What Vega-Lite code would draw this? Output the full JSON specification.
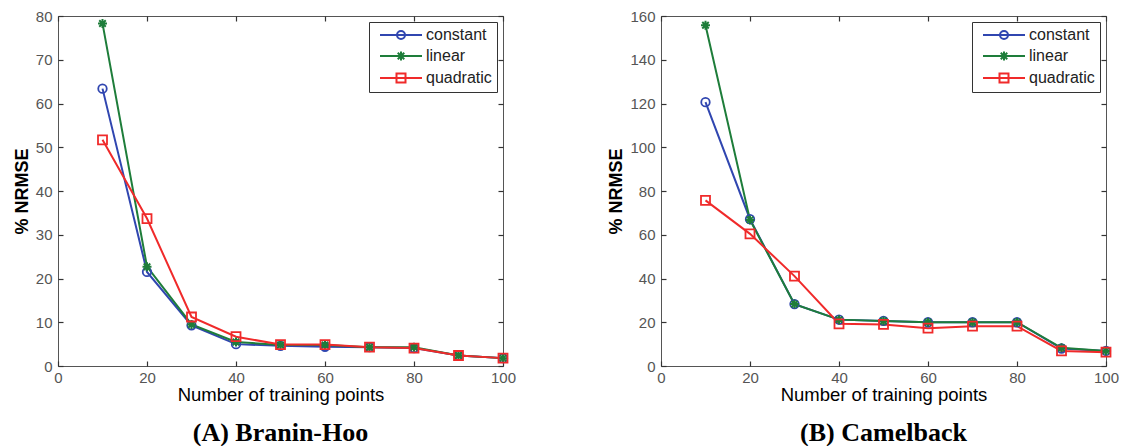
{
  "$schema": "https://vega.github.io/schema/vega-lite/v6.json",
  "background": "white",
  "padding": {"left": 12, "top": 8, "right": 0, "bottom": 0},
  "data": {"values": [
    {"p":"A","n":10,"m":"constant","v":63.4},{"p":"A","n":20,"m":"constant","v":21.5},{"p":"A","n":30,"m":"constant","v":9.3},{"p":"A","n":40,"m":"constant","v":5.0},{"p":"A","n":50,"m":"constant","v":4.6},{"p":"A","n":60,"m":"constant","v":4.4},{"p":"A","n":70,"m":"constant","v":4.3},{"p":"A","n":80,"m":"constant","v":4.1},{"p":"A","n":90,"m":"constant","v":2.4},{"p":"A","n":100,"m":"constant","v":1.8},
    {"p":"A","n":10,"m":"linear","v":78.3},{"p":"A","n":20,"m":"linear","v":22.7},{"p":"A","n":30,"m":"linear","v":9.5},{"p":"A","n":40,"m":"linear","v":5.5},{"p":"A","n":50,"m":"linear","v":4.8},{"p":"A","n":60,"m":"linear","v":4.8},{"p":"A","n":70,"m":"linear","v":4.3},{"p":"A","n":80,"m":"linear","v":4.3},{"p":"A","n":90,"m":"linear","v":2.4},{"p":"A","n":100,"m":"linear","v":1.8},
    {"p":"A","n":10,"m":"quadratic","v":51.7},{"p":"A","n":20,"m":"quadratic","v":33.7},{"p":"A","n":30,"m":"quadratic","v":11.2},{"p":"A","n":40,"m":"quadratic","v":6.7},{"p":"A","n":50,"m":"quadratic","v":4.9},{"p":"A","n":60,"m":"quadratic","v":4.9},{"p":"A","n":70,"m":"quadratic","v":4.3},{"p":"A","n":80,"m":"quadratic","v":4.1},{"p":"A","n":90,"m":"quadratic","v":2.4},{"p":"A","n":100,"m":"quadratic","v":1.8},
    {"p":"B","n":10,"m":"constant","v":120.6},{"p":"B","n":20,"m":"constant","v":67.1},{"p":"B","n":30,"m":"constant","v":28.3},{"p":"B","n":40,"m":"constant","v":21.2},{"p":"B","n":50,"m":"constant","v":20.6},{"p":"B","n":60,"m":"constant","v":20.0},{"p":"B","n":70,"m":"constant","v":20.0},{"p":"B","n":80,"m":"constant","v":20.0},{"p":"B","n":90,"m":"constant","v":8.0},{"p":"B","n":100,"m":"constant","v":6.9},
    {"p":"B","n":10,"m":"linear","v":155.8},{"p":"B","n":20,"m":"linear","v":66.8},{"p":"B","n":30,"m":"linear","v":28.3},{"p":"B","n":40,"m":"linear","v":21.2},{"p":"B","n":50,"m":"linear","v":20.6},{"p":"B","n":60,"m":"linear","v":20.0},{"p":"B","n":70,"m":"linear","v":20.0},{"p":"B","n":80,"m":"linear","v":20.0},{"p":"B","n":90,"m":"linear","v":8.3},{"p":"B","n":100,"m":"linear","v":6.9},
    {"p":"B","n":10,"m":"quadratic","v":75.7},{"p":"B","n":20,"m":"quadratic","v":60.4},{"p":"B","n":30,"m":"quadratic","v":41.1},{"p":"B","n":40,"m":"quadratic","v":19.3},{"p":"B","n":50,"m":"quadratic","v":19.0},{"p":"B","n":60,"m":"quadratic","v":17.3},{"p":"B","n":70,"m":"quadratic","v":18.2},{"p":"B","n":80,"m":"quadratic","v":18.2},{"p":"B","n":90,"m":"quadratic","v":6.9},{"p":"B","n":100,"m":"quadratic","v":6.3}
  ]},
  "spacing": 90,
  "resolve": {"scale": {"color": "independent", "shape": "independent"}, "legend": {"color": "independent", "shape": "independent"}},
  "hconcat": [
    {
      "width": 445, "height": 350,
      "title": {"text": "(A) Branin-Hoo", "orient": "bottom", "anchor": "middle", "frame": "group", "font": "Liberation Serif", "fontWeight": "bold", "fontSize": 26, "color": "black", "offset": 16},
      "transform": [{"filter": "datum.p === 'A'"}],
      "layer": [
        {"mark": {"type": "line", "strokeWidth": 2},
         "encoding": {
           "x": {"field": "n", "type": "quantitative", "scale": {"domain": [0, 100], "nice": false}, "axis": {"values": [0,20,40,60,80,100], "tickSize": 5, "offset": -5, "labelPadding": 4, "labelFlush": false, "title": "Number of training points", "titleFontSize": 18.5, "titleFontWeight": "normal", "titlePadding": 0}},
           "y": {"field": "v", "type": "quantitative", "scale": {"domain": [0, 80], "nice": false}, "axis": {"values": [0,10,20,30,40,50,60,70,80], "tickSize": 5, "offset": -5, "labelPadding": 6, "title": "% NRMSE", "titleFontSize": 18, "titleFontWeight": "bold", "titlePadding": 4}},
           "color": {"field": "m", "type": "nominal", "scale": {"domain": ["constant","linear","quadratic"], "range": ["#3046b0","#1e7d3a","#f02a2a"]}, "legend": {"title": null, "orient": "top-right"}}}},
        {"transform": [{"filter": "datum.m === 'constant'"}],
         "mark": {"type": "point", "filled": false, "strokeWidth": 1.8, "size": 100, "opacity": 1, "shape": "M0.85,0A0.85,0.85 0 1,1 -0.85,0A0.85,0.85 0 1,1 0.85,0Z"},
         "encoding": {"x": {"field": "n", "type": "quantitative", "axis": null}, "y": {"field": "v", "type": "quantitative", "axis": null},
           "color": {"field": "m", "type": "nominal", "scale": {"domain": ["constant","linear","quadratic"], "range": ["#3046b0","#1e7d3a","#f02a2a"]}, "legend": {"title": null, "orient": "top-right"}}}},
        {"transform": [{"filter": "datum.m === 'linear'"}],
         "mark": {"type": "point", "filled": false, "strokeWidth": 2, "size": 100, "opacity": 1, "shape": "M0,-0.9V0.9M-0.9,0H0.9M-0.65,-0.65L0.65,0.65M-0.65,0.65L0.65,-0.65"},
         "encoding": {"x": {"field": "n", "type": "quantitative", "axis": null}, "y": {"field": "v", "type": "quantitative", "axis": null},
           "color": {"field": "m", "type": "nominal", "scale": {"domain": ["constant","linear","quadratic"], "range": ["#3046b0","#1e7d3a","#f02a2a"]}, "legend": {"title": null, "orient": "top-right"}}}},
        {"transform": [{"filter": "datum.m === 'quadratic'"}],
         "mark": {"type": "point", "filled": false, "strokeWidth": 1.8, "size": 100, "opacity": 1, "shape": "M-0.9,-0.9H0.9V0.9H-0.9Z"},
         "encoding": {"x": {"field": "n", "type": "quantitative", "axis": null}, "y": {"field": "v", "type": "quantitative", "axis": null},
           "color": {"field": "m", "type": "nominal", "scale": {"domain": ["constant","linear","quadratic"], "range": ["#3046b0","#1e7d3a","#f02a2a"]}, "legend": {"title": null, "orient": "top-right"}}}},
        {"transform": [{"filter": "datum.n > 1000"}],
         "mark": {"type": "point", "filled": false, "strokeWidth": 2, "size": 100, "opacity": 1},
         "encoding": {
           "x": {"field": "n", "type": "quantitative", "axis": {"orient": "top", "values": [0,20,40,60,80,100], "tickSize": 5, "offset": -5, "labels": false, "title": null}},
           "y": {"field": "v", "type": "quantitative", "axis": {"orient": "right", "values": [0,10,20,30,40,50,60,70,80], "tickSize": 5, "offset": -5, "labels": false, "title": null}},
           "color": {"field": "m", "type": "nominal", "scale": {"domain": ["constant","linear","quadratic"], "range": ["#3046b0","#1e7d3a","#f02a2a"]}, "legend": {"title": null, "orient": "top-right"}},
           "shape": {"field": "m", "type": "nominal", "scale": {"domain": ["constant","linear","quadratic"], "range": ["M-4.2,0H4.2M0.8,0A0.8,0.8 0 1,1 -0.8,0A0.8,0.8 0 1,1 0.8,0", "M-4.2,0H4.2M0,-0.9V0.9M-0.65,-0.65L0.65,0.65M-0.65,0.65L0.65,-0.65", "M-4.2,0H4.2M-0.9,-0.9H0.9V0.9H-0.9Z"]}, "legend": {"title": null, "orient": "top-right"}}}}
      ],
      "resolve": {"axis": {"x": "independent", "y": "independent"}}
    },
    {
      "width": 445, "height": 350,
      "title": {"text": "(B) Camelback", "orient": "bottom", "anchor": "middle", "frame": "group", "font": "Liberation Serif", "fontWeight": "bold", "fontSize": 26, "color": "black", "offset": 16},
      "transform": [{"filter": "datum.p === 'B'"}],
      "layer": [
        {"mark": {"type": "line", "strokeWidth": 2},
         "encoding": {
           "x": {"field": "n", "type": "quantitative", "scale": {"domain": [0, 100], "nice": false}, "axis": {"values": [0,20,40,60,80,100], "tickSize": 5, "offset": -5, "labelPadding": 4, "labelFlush": false, "title": "Number of training points", "titleFontSize": 18.5, "titleFontWeight": "normal", "titlePadding": 0}},
           "y": {"field": "v", "type": "quantitative", "scale": {"domain": [0, 160], "nice": false}, "axis": {"values": [0,20,40,60,80,100,120,140,160], "tickSize": 5, "offset": -5, "labelPadding": 6, "title": "% NRMSE", "titleFontSize": 18, "titleFontWeight": "bold", "titlePadding": 4}},
           "color": {"field": "m", "type": "nominal", "scale": {"domain": ["constant","linear","quadratic"], "range": ["#3046b0","#1e7d3a","#f02a2a"]}, "legend": {"title": null, "orient": "top-right"}}}},
        {"transform": [{"filter": "datum.m === 'constant'"}],
         "mark": {"type": "point", "filled": false, "strokeWidth": 1.8, "size": 100, "opacity": 1, "shape": "M0.85,0A0.85,0.85 0 1,1 -0.85,0A0.85,0.85 0 1,1 0.85,0Z"},
         "encoding": {"x": {"field": "n", "type": "quantitative", "axis": null}, "y": {"field": "v", "type": "quantitative", "axis": null},
           "color": {"field": "m", "type": "nominal", "scale": {"domain": ["constant","linear","quadratic"], "range": ["#3046b0","#1e7d3a","#f02a2a"]}, "legend": {"title": null, "orient": "top-right"}}}},
        {"transform": [{"filter": "datum.m === 'linear'"}],
         "mark": {"type": "point", "filled": false, "strokeWidth": 2, "size": 100, "opacity": 1, "shape": "M0,-0.9V0.9M-0.9,0H0.9M-0.65,-0.65L0.65,0.65M-0.65,0.65L0.65,-0.65"},
         "encoding": {"x": {"field": "n", "type": "quantitative", "axis": null}, "y": {"field": "v", "type": "quantitative", "axis": null},
           "color": {"field": "m", "type": "nominal", "scale": {"domain": ["constant","linear","quadratic"], "range": ["#3046b0","#1e7d3a","#f02a2a"]}, "legend": {"title": null, "orient": "top-right"}}}},
        {"transform": [{"filter": "datum.m === 'quadratic'"}],
         "mark": {"type": "point", "filled": false, "strokeWidth": 1.8, "size": 100, "opacity": 1, "shape": "M-0.9,-0.9H0.9V0.9H-0.9Z"},
         "encoding": {"x": {"field": "n", "type": "quantitative", "axis": null}, "y": {"field": "v", "type": "quantitative", "axis": null},
           "color": {"field": "m", "type": "nominal", "scale": {"domain": ["constant","linear","quadratic"], "range": ["#3046b0","#1e7d3a","#f02a2a"]}, "legend": {"title": null, "orient": "top-right"}}}},
        {"transform": [{"filter": "datum.n > 1000"}],
         "mark": {"type": "point", "filled": false, "strokeWidth": 2, "size": 100, "opacity": 1},
         "encoding": {
           "x": {"field": "n", "type": "quantitative", "axis": {"orient": "top", "values": [0,20,40,60,80,100], "tickSize": 5, "offset": -5, "labels": false, "title": null}},
           "y": {"field": "v", "type": "quantitative", "axis": {"orient": "right", "values": [0,20,40,60,80,100,120,140,160], "tickSize": 5, "offset": -5, "labels": false, "title": null}},
           "color": {"field": "m", "type": "nominal", "scale": {"domain": ["constant","linear","quadratic"], "range": ["#3046b0","#1e7d3a","#f02a2a"]}, "legend": {"title": null, "orient": "top-right"}},
           "shape": {"field": "m", "type": "nominal", "scale": {"domain": ["constant","linear","quadratic"], "range": ["M-4.2,0H4.2M0.8,0A0.8,0.8 0 1,1 -0.8,0A0.8,0.8 0 1,1 0.8,0", "M-4.2,0H4.2M0,-0.9V0.9M-0.65,-0.65L0.65,0.65M-0.65,0.65L0.65,-0.65", "M-4.2,0H4.2M-0.9,-0.9H0.9V0.9H-0.9Z"]}, "legend": {"title": null, "orient": "top-right"}}}}
      ],
      "resolve": {"axis": {"x": "independent", "y": "independent"}}
    }
  ],
  "config": {
    "view": {"stroke": "#555", "strokeWidth": 1},
    "axis": {"domain": false, "grid": false, "ticks": true, "labelFont": "Liberation Sans", "labelFontSize": 15, "labelColor": "#555", "tickColor": "#333", "tickWidth": 1.2, "titleFont": "Liberation Sans", "titleColor": "black"},
    "legend": {"orient": "top-right", "offset": 6, "padding": 5, "strokeColor": "#333", "fillColor": "white", "labelFont": "Liberation Sans", "labelFontSize": 16, "labelColor": "#222", "symbolOffset": 19, "labelOffset": 17, "rowPadding": 4, "symbolStrokeWidth": 2, "symbolSize": 100}
  }
}
